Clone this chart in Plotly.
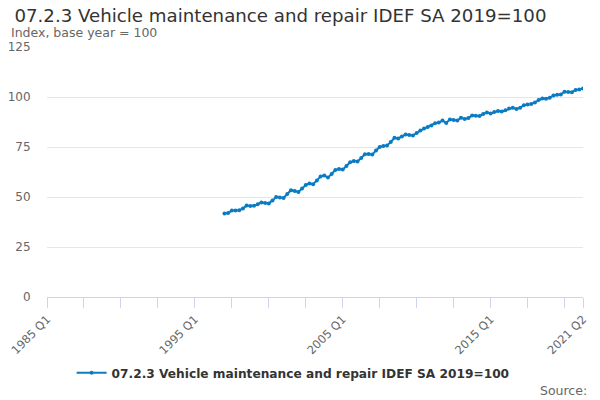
import plotly.graph_objects as go

# Quarterly categories 1985 Q1 .. 2021 Q2
quarters = [f"{y} Q{q}" for y in range(1985, 2022) for q in range(1, 5)]
quarters = quarters[:quarters.index("2021 Q2") + 1]

# Series starts at 1997 Q1
series_start = "1997 Q1"
index_values = [
    41.8, 42.0, 43.2, 43.3, 43.4, 44.2, 45.7, 45.5, 45.6, 46.4,
    47.3, 47.0, 46.8, 48.2, 50.0, 49.8, 49.5, 51.5, 53.4, 53.0,
    52.5, 54.2, 56.0, 56.8, 56.4, 58.3, 60.2, 60.8, 59.7, 61.5,
    63.5, 64.0, 63.7, 65.5, 67.4, 68.0, 67.8, 69.5, 71.4, 71.5,
    71.2, 73.3, 75.0, 75.5, 75.8, 77.5, 79.6, 79.3, 80.3, 81.2,
    81.0, 80.8, 82.0, 83.2, 84.2, 85.0, 85.8, 86.9, 87.2, 88.2,
    87.0, 88.8, 88.5, 88.3, 89.6, 89.0, 89.5, 90.8, 90.6, 90.5,
    91.5, 92.3, 91.8, 92.5, 93.0, 92.7, 93.4, 94.2, 94.6, 94.0,
    94.6, 95.9, 96.2, 96.5, 97.3, 98.5, 99.3, 99.1, 99.6, 100.8,
    101.1, 101.2, 102.6, 102.5, 102.4, 103.5, 103.7, 104.3,
]
start = quarters.index(series_start)
x_vals = quarters[start:start + len(index_values)]

# ticks every 10 quarters plus the last one, labels only on some
tick_vals = quarters[0::10] + [quarters[-1]]
labelled = ["1985 Q1", "1995 Q1", "2005 Q1", "2015 Q1", "2021 Q2"]
tick_text = [t if t in labelled else "" for t in tick_vals]

series_name = "07.2.3 Vehicle maintenance and repair IDEF SA 2019=100"
blue = "#0b7cc3"

fig = go.Figure()
fig.add_trace(go.Scatter(
    x=x_vals,
    y=index_values,
    mode="lines+markers",
    name=series_name,
    line=dict(color=blue, width=2),
    marker=dict(color=blue, size=4),
))

fig.update_layout(
    width=600, height=400,
    margin=dict(l=47, r=17, t=47, b=103, autoexpand=False),
    paper_bgcolor="white", plot_bgcolor="white",
    font=dict(family="DejaVu Sans", color="#666666"),
    title=dict(text=series_name, xref="container", x=0.024, xanchor="left",
               yref="container", y=0.962, yanchor="middle",
               font=dict(size=18.2, color="#333333")),
    showlegend=True,
    legend=dict(orientation="h", xref="container", x=0.4885, xanchor="center",
                yref="container", y=0.068, yanchor="middle", itemwidth=30,
                font=dict(size=12.2, color="#333333", weight="bold")),
    xaxis=dict(
        type="category", categoryorder="array", categoryarray=quarters,
        range=[0, len(quarters) - 1], automargin=False,
        tickmode="array", tickvals=tick_vals, ticktext=tick_text,
        tickangle=-45, tickfont=dict(size=11.5, color="#666666"),
        ticks="outside", ticklen=10, tickcolor="#ccd6eb",
        showline=True, linecolor="#ccd6eb", linewidth=1,
        showgrid=False, zeroline=False,
    ),
    yaxis=dict(
        range=[0, 125], tickvals=[0, 25, 50, 75, 100, 125], automargin=False,
        tickfont=dict(size=12, color="#666666"),
        ticks="outside", ticklen=13, tickcolor="rgba(0,0,0,0)",
        showgrid=True, gridcolor="#e6e6e6", zeroline=False,
    ),
    annotations=[
        dict(text="Index, base year = 100", xref="paper", yref="paper",
             x=-0.071, y=1.056, xanchor="left", yanchor="middle",
             showarrow=False, font=dict(size=12.5, color="#666666")),
        dict(text="Source:", xref="paper", yref="paper",
             x=1.011, y=-0.372, xanchor="right", yanchor="middle",
             showarrow=False, font=dict(size=12.5, color="#666666")),
    ],
)

# drop the default page margin so the 600x400 figure fills the window
fig.write_html("out.html", config={"displayModeBar": False},
               post_script="document.body.style.margin='0';")
